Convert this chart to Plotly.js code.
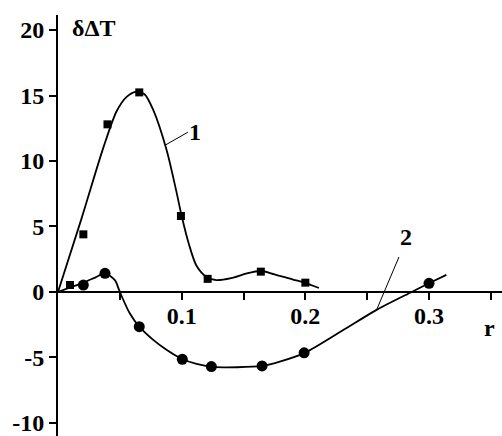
<!DOCTYPE html>
<html>
<head>
<meta charset="utf-8">
<script src="https://cdn.plot.ly/plotly-3.0.1.min.js"></script>
<style>html,body{margin:0;padding:0;background:#fff}#chart{width:502px;height:436px}</style>
</head>
<body>
<div id="chart"></div>
<script>
// Series 1 (squares) measured points
var s1X = [0.0097, 0.0205, 0.040, 0.0657, 0.0994, 0.121, 0.164, 0.200];
var s1Y = [0.53, 4.4, 12.8, 15.24, 5.8, 1.0, 1.55, 0.71];
// Series 1 fitted curve
var c1X = [0, 0.019, 0.0366, 0.0474, 0.0555, 0.0636, 0.07, 0.077, 0.0878, 0.096, 0.1, 0.106, 0.112, 0.12, 0.128, 0.14, 0.152, 0.164, 0.175, 0.19, 0.2, 0.211];
var c1Y = [0, 5.6, 11.0, 13.8, 14.9, 15.3, 15.1, 13.9, 10.84, 7.55, 5.8, 3.6, 2.0, 1.15, 0.9, 1.05, 1.4, 1.6, 1.35, 0.95, 0.7, 0.3];
// Series 2 (circles) measured points
var s2X = [0.0205, 0.038, 0.0657, 0.1005, 0.124, 0.165, 0.199, 0.300];
var s2Y = [0.53, 1.42, -2.65, -5.14, -5.7, -5.65, -4.65, 0.66];
// Series 2 fitted curve
var c2X = [0, 0.01, 0.02, 0.03, 0.038, 0.046, 0.05, 0.058, 0.0657, 0.077, 0.088, 0.1, 0.112, 0.125, 0.145, 0.165, 0.18, 0.2, 0.23, 0.2576, 0.286, 0.3, 0.314];
var c2Y = [0, 0.35, 0.7, 1.1, 1.42, 0.9, 0.0, -1.63, -2.65, -3.66, -4.43, -5.1, -5.5, -5.72, -5.75, -5.65, -5.3, -4.63, -2.95, -1.37, 0.0, 0.66, 1.3];
// Axis ticks
var xTickVals = [0.05, 0.1, 0.15, 0.2, 0.25, 0.3, 0.35];
var xTickText = ['', '0.1', '', '0.2', '', '0.3', ''];
var yTickVals = [-10, -5, 0, 5, 10, 15, 20];
var yTickText = ['-10', '-5', '0', '5', '10', '15', '20'];
var xRange = [0, 0.359];
var yRange = [-11, 21.15];

var font = {family: "'Liberation Serif', 'Times New Roman', serif", size: 24, color: '#000', weight: 'bold'};
var lineStyle = {color: '#000', width: 1.8, shape: 'spline', smoothing: 0.8};

var traces = [
  {x: c1X, y: c1Y, mode: 'lines', line: lineStyle, hoverinfo: 'skip'},
  {x: c2X, y: c2Y, mode: 'lines', line: lineStyle, hoverinfo: 'skip'},
  {x: s1X, y: s1Y, mode: 'markers', marker: {symbol: 'square', size: 8, color: '#000'}},
  {x: s2X, y: s2Y, mode: 'markers', marker: {symbol: 'circle', size: 11, color: '#000'}}
];

var layout = {
  width: 502, height: 436,
  margin: {l: 58, r: 0, t: 15, b: 0},
  paper_bgcolor: '#fff', plot_bgcolor: '#fff',
  showlegend: false,
  font: font,
  xaxis: {
    range: xRange, anchor: 'free',
    position: (0 - yRange[0]) / (yRange[1] - yRange[0]),
    showline: true, linecolor: '#000', linewidth: 2,
    showgrid: false, zeroline: false,
    ticks: 'outside', ticklen: 7, tickwidth: 2, tickcolor: '#000',
    ticklabelstandoff: -5,
    tickmode: 'array', tickvals: xTickVals, ticktext: xTickText,
    tickfont: font
  },
  yaxis: {
    range: yRange,
    showline: true, linecolor: '#000', linewidth: 2,
    showgrid: false, zeroline: false,
    ticks: 'outside', ticklen: 7, tickwidth: 2, tickcolor: '#000',
    ticklabeloverflow: 'allow',
    tickmode: 'array', tickvals: yTickVals, ticktext: yTickText,
    tickfont: font
  },
  annotations: [
    {x: 0.0295, y: 20.15, xref: 'x', yref: 'y', text: 'δΔT', showarrow: false, font: font},
    {x: 0.349, y: -2.75, xref: 'x', yref: 'y', text: 'r', showarrow: false, font: font},
    {x: 0.111, y: 12.2, xref: 'x', yref: 'y', text: '1', showarrow: false, font: font},
    {x: 0.281, y: 4.2, xref: 'x', yref: 'y', text: '2', showarrow: false, font: font}
  ],
  shapes: [
    {type: 'line', xref: 'x', yref: 'y', x0: 0.0865, y0: 11.2, x1: 0.105, y1: 12.2, line: {color: '#000', width: 1}},
    {type: 'line', xref: 'x', yref: 'y', x0: 0.2757, y0: 2.67, x1: 0.2576, y1: -1.37, line: {color: '#000', width: 1}}
  ]
};

Plotly.newPlot('chart', traces, layout, {staticPlot: true, displayModeBar: false});
</script>
</body>
</html>
